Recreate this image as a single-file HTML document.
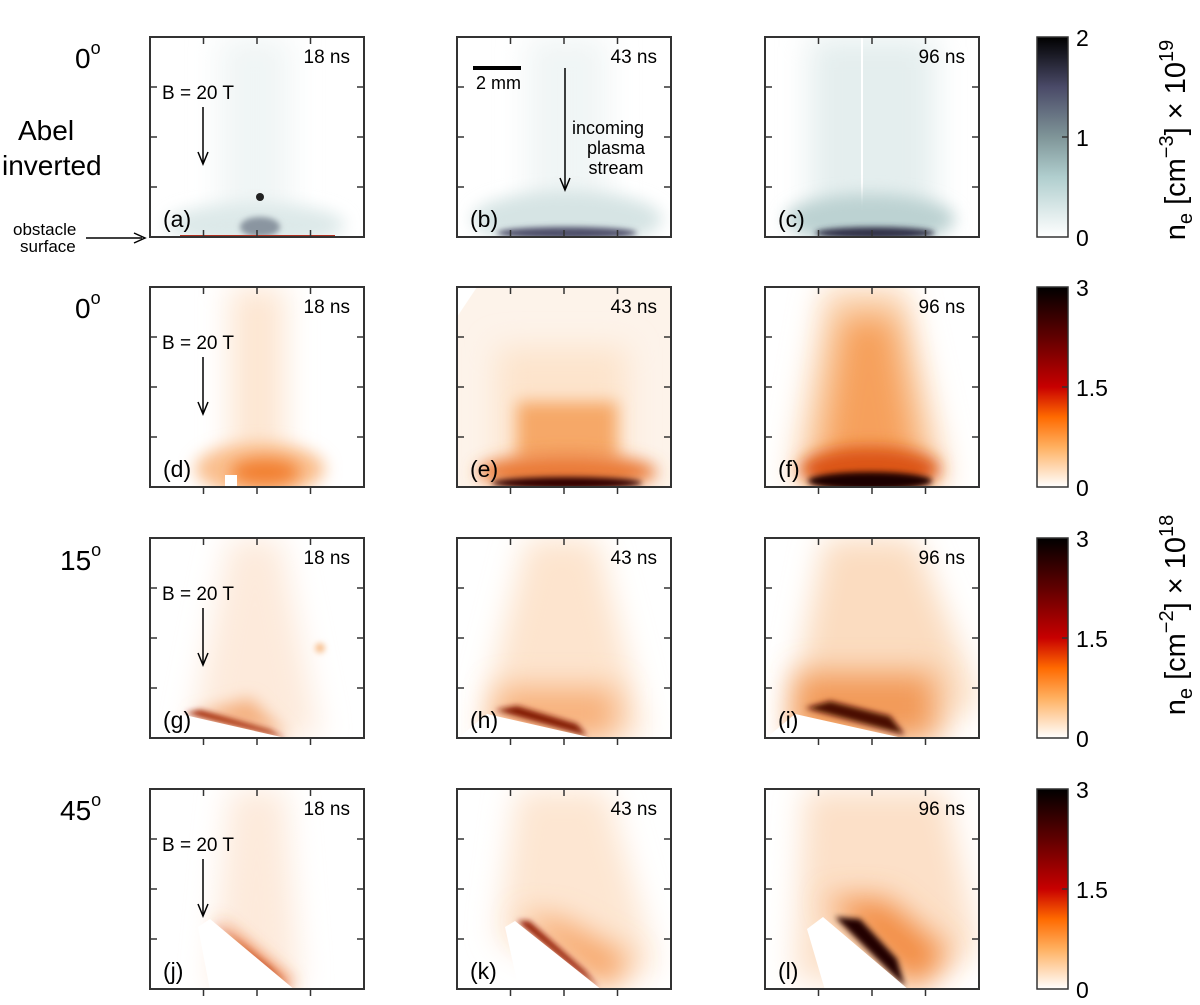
<!DOCTYPE html>
<html><head><meta charset="utf-8">
<style>
html,body{margin:0;padding:0;background:#fff;}
svg{display:block;font-family:"Liberation Sans",sans-serif;}
</style></head>
<body>
<svg id="fig" width="1200" height="1005" viewBox="0 0 1200 1005" xmlns="http://www.w3.org/2000/svg">
<defs>
<filter id="b3" filterUnits="userSpaceOnUse" x="-100" y="-100" width="420" height="400"><feGaussianBlur stdDeviation="3"/></filter>
<filter id="b8" filterUnits="userSpaceOnUse" x="-100" y="-100" width="420" height="400"><feGaussianBlur stdDeviation="8"/></filter>
<filter id="b15" filterUnits="userSpaceOnUse" x="-100" y="-100" width="420" height="400"><feGaussianBlur stdDeviation="15"/></filter>
<linearGradient id="cmTeal" x1="0" y1="1" x2="0" y2="0">
<stop offset="0" stop-color="#ffffff"/><stop offset="0.3" stop-color="#b0cece"/><stop offset="0.5" stop-color="#7f9598"/><stop offset="0.75" stop-color="#4a4a68"/><stop offset="1" stop-color="#000"/>
</linearGradient>
<linearGradient id="cmOr" x1="0" y1="1" x2="0" y2="0">
<stop offset="0" stop-color="#ffffff"/><stop offset="0.2" stop-color="#ffb060"/><stop offset="0.35" stop-color="#ff6a00"/><stop offset="0.5" stop-color="#c80000"/><stop offset="0.75" stop-color="#600000"/><stop offset="1" stop-color="#000"/>
</linearGradient>
</defs>
<g id="panels"></g>
<g id="cbars"></g>
<g id="labels" font-size="28">
<text x="75" y="68">0<tspan font-size="18" dy="-14">o</tspan></text>
<text x="18" y="140">Abel</text>
<text x="2" y="175">inverted</text>
<text x="13" y="235" font-size="17">obstacle</text>
<text x="20" y="252" font-size="17">surface</text>
<g><line x1="86" y1="238" x2="142" y2="238" stroke="#000" stroke-width="1.5"/><path d="M134,233 L145,238 L134,243" fill="none" stroke="#000" stroke-width="1.5"/></g>
<text x="75" y="318">0<tspan font-size="18" dy="-14">o</tspan></text>
<text x="60" y="570">15<tspan font-size="18" dy="-14">o</tspan></text>
<text x="60" y="820">45<tspan font-size="18" dy="-14">o</tspan></text>
<g><line x1="473" y1="68" x2="521" y2="68" stroke="#000" stroke-width="4"/><text x="476" y="89" font-size="18">2 mm</text></g>
<g><line x1="565" y1="68" x2="565" y2="188" stroke="#000" stroke-width="1.5"/><path d="M560,178 L565,190 L570,178" fill="none" stroke="#000" stroke-width="1.5"/></g>
<g font-size="18" text-anchor="middle"><text x="608" y="134">incoming</text><text x="616" y="154">plasma</text><text x="616" y="174">stream</text></g>
<text transform="translate(1185,140) rotate(-90)" text-anchor="middle" font-size="29">n<tspan font-size="20" dy="7">e</tspan><tspan dy="-7">  [cm</tspan><tspan font-size="20" dy="-12">−3</tspan><tspan dy="12">] × 10</tspan><tspan font-size="20" dy="-12">19</tspan></text>
<text transform="translate(1185,615) rotate(-90)" text-anchor="middle" font-size="29">n<tspan font-size="20" dy="7">e</tspan><tspan dy="-7">  [cm</tspan><tspan font-size="20" dy="-12">−2</tspan><tspan dy="12">] × 10</tspan><tspan font-size="20" dy="-12">18</tspan></text>
</g>
</svg>
<script>
const NS="http://www.w3.org/2000/svg";
const colX=[150,457,765];
const rowY=[37,287,538,789];
const panelW=214, panelH=200;
const times=["18 ns","43 ns","96 ns"];
const letters=["a","b","c","d","e","f","g","h","i","j","k","l"];
const cbarTicksTop=[0,1,2];
const cbarTicksOr=[0,1.5,3];
const cbarMaxTop=2, cbarMaxOr=3;
function el(tag,attrs,parent){const e=document.createElementNS(NS,tag);for(const k in attrs)e.setAttribute(k,attrs[k]);if(parent)parent.appendChild(e);return e;}
const shapes={
a:`<rect x="70" y="0" width="70" height="200" fill="#f0f5f5" filter="url(#b15)"/>
<ellipse cx="105" cy="188" rx="90" ry="22" fill="#dde9e9" filter="url(#b8)"/>
<ellipse cx="110" cy="190" rx="20" ry="10" fill="#8a95a0" filter="url(#b3)"/>
<circle cx="110" cy="160" r="4" fill="#222"/>
<line x1="30" y1="199" x2="185" y2="199" stroke="#b03020" stroke-width="2"/>`,
b:`<rect x="70" y="0" width="80" height="200" fill="#f0f5f5" filter="url(#b15)"/>
<ellipse cx="110" cy="182" rx="95" ry="28" fill="#d6e4e4" filter="url(#b8)"/>
<ellipse cx="110" cy="196" rx="70" ry="6" fill="#50506a" filter="url(#b3)"/>`,
c:`<rect x="45" y="0" width="125" height="200" fill="#e4eeee" filter="url(#b15)"/>
<line x1="97" y1="0" x2="97" y2="200" stroke="#fff" stroke-width="2"/>
<ellipse cx="105" cy="182" rx="85" ry="25" fill="#bcd2d2" filter="url(#b8)"/>
<ellipse cx="110" cy="196" rx="60" ry="6" fill="#303048" filter="url(#b3)"/>`,
d:`<rect x="80" y="0" width="55" height="200" fill="#fde6d2" filter="url(#b15)"/>
<ellipse cx="110" cy="182" rx="65" ry="26" fill="#fac090" filter="url(#b8)"/>
<ellipse cx="115" cy="185" rx="35" ry="14" fill="#f28030" filter="url(#b8)"/>
<rect x="75" y="188" width="12" height="12" fill="#fff"/>`,
e:`<path d="M20,0 L214,0 L214,200 L0,200 L0,30 Z" fill="#fdf3ea"/>
<rect x="40" y="60" width="130" height="140" fill="#fde4cc" filter="url(#b15)"/>
<rect x="60" y="115" width="100" height="60" fill="#f6a868" filter="url(#b8)"/>
<ellipse cx="110" cy="185" rx="90" ry="18" fill="#ea7a38" filter="url(#b8)"/>
<ellipse cx="110" cy="196" rx="75" ry="6" fill="#300" filter="url(#b3)"/>`,
f:`<path d="M60,0 L140,0 L185,200 L25,200 Z" fill="#fbd6b4" filter="url(#b15)"/>
<path d="M78,30 L128,30 L158,200 L52,200 Z" fill="#f6a05c" filter="url(#b15)"/>
<ellipse cx="105" cy="182" rx="70" ry="22" fill="#dc5518" filter="url(#b8)"/>
<ellipse cx="105" cy="194" rx="62" ry="9" fill="#1a0000" filter="url(#b3)"/>`,
g:`<path d="M80,0 L130,0 L170,200 L40,200 Z" fill="#fdeadb" filter="url(#b15)"/>
<path d="M40,178 L140,200 L100,160 Z" fill="#f4b080" filter="url(#b8)"/>
<path d="M35,175 L135,200 L120,192 L50,172 Z" fill="#a02000" filter="url(#b3)"/>
<path d="M30,176 L140,201 L0,201 Z" fill="#fff"/>
<circle cx="170" cy="110" r="5" fill="#f7c090" filter="url(#b3)"/>`,
h:`<path d="M70,0 L140,0 L190,200 L20,200 Z" fill="#fde4ce" filter="url(#b15)"/>
<path d="M40,150 L160,150 L160,200 L40,200 Z" fill="#f7b07a" filter="url(#b15)"/>
<path d="M38,172 L130,198 L120,186 L60,168 Z" fill="#801400" filter="url(#b3)"/>
<path d="M30,176 L140,201 L0,201 Z" fill="#fff"/>`,
i:`<path d="M60,0 L150,0 L214,160 L170,200 L20,200 Z" fill="#fbdcc0" filter="url(#b15)"/>
<path d="M30,135 L170,135 L170,200 L30,200 Z" fill="#f29a58" filter="url(#b15)"/>
<path d="M40,170 L140,197 L125,178 L65,163 Z" fill="#4a0800" filter="url(#b3)"/>
<path d="M30,176 L142,201 L0,201 Z" fill="#fff"/>`,
j:`<path d="M80,0 L135,0 L150,200 L60,200 Z" fill="#fdeadb" filter="url(#b15)"/>
<path d="M65,128 L145,195 L130,200 L90,170 Z" fill="#e87030" filter="url(#b8)"/>
<path d="M62,131 L142,200 L120,178 Z" fill="#a82800" filter="url(#b3)"/>
<path d="M48,138 L60,130 L145,201 L60,201 Z" fill="#fff"/>`,
k:`<path d="M60,0 L150,0 L200,180 L140,200 L40,150 Z" fill="#fde6d2" filter="url(#b15)"/>
<path d="M60,128 L150,200 L175,170 L100,130 Z" fill="#f6a060" filter="url(#b15)"/>
<path d="M60,132 L142,200 L128,182 L72,132 Z" fill="#901400" filter="url(#b3)"/>
<path d="M48,138 L58,132 L145,201 L62,201 Z" fill="#fff"/>`,
l:`<path d="M40,0 L180,0 L214,160 L150,200 L30,190 Z" fill="#fce0c8" filter="url(#b15)"/>
<path d="M60,110 L150,200 L185,165 L120,110 Z" fill="#f28a40" filter="url(#b15)"/>
<path d="M70,128 L140,198 L132,170 L95,130 Z" fill="#200000" filter="url(#b3)"/>
<path d="M42,140 L58,128 L144,201 L60,201 Z" fill="#fff"/>`
};
const P=document.getElementById('panels');
for(let r=0;r<4;r++)for(let c=0;c<3;c++){
  const x=colX[c],y=rowY[r],L=letters[r*3+c];
  const g=el('g',{transform:`translate(${x},${y})`},P);
  
  
  el('clipPath',{id:'cp'+L},g).appendChild(el('rect',{x:0,y:0,width:panelW,height:panelH}));
  const inner=el('g',{'clip-path':`url(#cp${L})`},g);
  inner.innerHTML=shapes[L];
  el('rect',{x:0,y:0,width:panelW,height:panelH,fill:'none',stroke:'#333','stroke-width':2},g);
  for(let i=1;i<4;i++){
    const tx=panelW*i/4, ty=panelH*i/4;
    el('line',{x1:tx,y1:0,x2:tx,y2:7,stroke:'#333','stroke-width':1.5},g);
    el('line',{x1:tx,y1:panelH,x2:tx,y2:panelH+(r==0?-7:7),stroke:'#333','stroke-width':1.5},g);
    el('line',{x1:0,y1:ty,x2:7,y2:ty,stroke:'#333','stroke-width':1.5},g);
    el('line',{x1:panelW,y1:ty,x2:panelW-7,y2:ty,stroke:'#333','stroke-width':1.5},g);
  }
  const t=el('text',{x:200,y:26,'font-size':19,'text-anchor':'end'},g);t.textContent=times[c];
  
  
  const lt=el('text',{x:13,y:190,'font-size':23},g);lt.textContent='('+L+')';
  
  
  if(c==0){
    const bt=el('text',{x:12,y:62,'font-size':19},g);bt.textContent='B = 20 T';
    
    
    el('line',{x1:53,y1:70,x2:53,y2:125,stroke:'#000','stroke-width':1.5},g);
    el('path',{d:'M48,115 L53,127 L58,115',fill:'none',stroke:'#000','stroke-width':1.5},g);
  }
}
const C=document.getElementById('cbars');
const cbx=1037,cbw=31;
for(let r=0;r<4;r++){
  const y=rowY[r];
  const top=r==0;
  const ticks=top?cbarTicksTop:cbarTicksOr, mx=top?cbarMaxTop:cbarMaxOr;
  const g=el('g',{},C);
  
  
  el('rect',{x:cbx,y:y,width:cbw,height:panelH,fill:top?'url(#cmTeal)':'url(#cmOr)',stroke:'#333','stroke-width':1.5},g);
  ticks.forEach(v=>{
    const ty=y+panelH-v/mx*panelH;
    if(v>0&&v<mx) el('line',{x1:cbx+cbw-6,y1:ty,x2:cbx+cbw,y2:ty,stroke:'#333','stroke-width':1.5},g);
    const tt=el('text',{x:cbx+cbw+8,y:ty+9,'font-size':23},g);tt.textContent=String(v);
    
    
  });
}
</script>
</body></html>
